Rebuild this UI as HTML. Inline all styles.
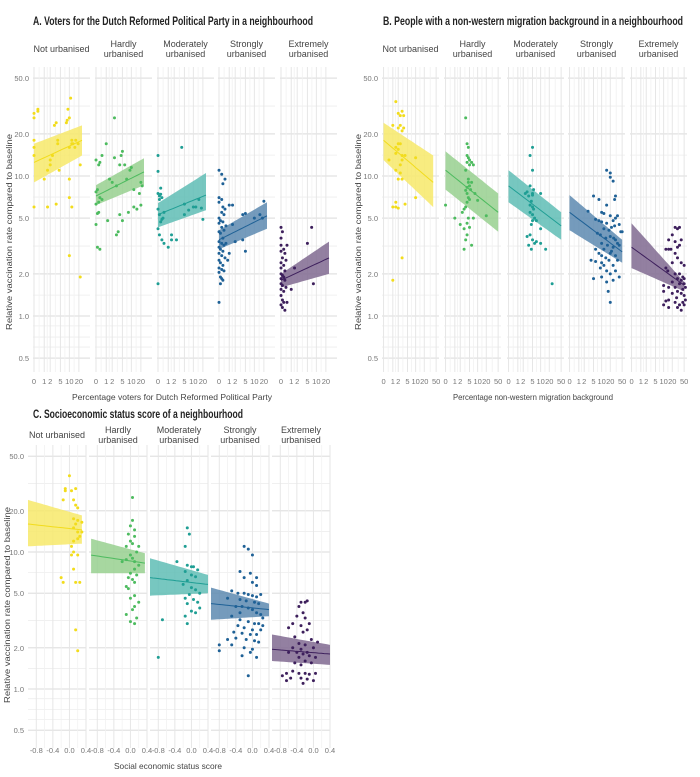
<!DOCTYPE html>
<html><head><meta charset="utf-8"><style>
html,body{margin:0;padding:0;background:#fff;}
svg{display:block;font-family:"Liberation Sans",sans-serif;}
.t{font-weight:bold;font-size:11.5px;fill:#222;}
.s{font-size:9px;fill:#444;text-anchor:middle;}
.tk{font-size:7.5px;fill:#777;}
.at{font-size:8.5px;fill:#444;}
</style></head><body>
<svg id="chart" width="700" height="777" viewBox="0 0 700 777">
<text class="t" x="33" y="25" textLength="280" lengthAdjust="spacingAndGlyphs">A. Voters for the Dutch Reformed Political Party in a neighbourhood</text>
<text class="t" x="383" y="25" textLength="300" lengthAdjust="spacingAndGlyphs">B. People with a non-western migration background in a neighbourhood</text>
<text class="t" x="33" y="418" textLength="210" lengthAdjust="spacingAndGlyphs">C. Socioeconomic status score of a neighbourhood</text>
<text class="at" transform="translate(12,232) rotate(-90)" text-anchor="middle" textLength="196" lengthAdjust="spacingAndGlyphs">Relative vaccination rate compared to baseline</text>
<text class="at" transform="translate(361,232) rotate(-90)" text-anchor="middle" textLength="196" lengthAdjust="spacingAndGlyphs">Relative vaccination rate compared to baseline</text>
<text class="at" transform="translate(10,605) rotate(-90)" text-anchor="middle" textLength="196" lengthAdjust="spacingAndGlyphs">Relative vaccination rate compared to baseline</text>
<text class="at" x="172" y="400" text-anchor="middle" textLength="200" lengthAdjust="spacingAndGlyphs">Percentage voters for Dutch Reformed Political Party</text>
<text class="at" x="533" y="400" text-anchor="middle" textLength="160" lengthAdjust="spacingAndGlyphs">Percentage non-western migration background</text>
<text class="at" x="168" y="769" text-anchor="middle" textLength="108" lengthAdjust="spacingAndGlyphs">Social economic status score</text>
</svg>
<script>
const urbanLabels=[["Not urbanised"],["Hardly","urbanised"],["Moderately","urbanised"],["Strongly","urbanised"],["Extremely","urbanised"]];
const colors=["#f2dc1c","#4dbb5f","#1f9e94","#1f6196","#3d1f5c"];
const bandColors=["#f7e96a","#98d08f","#5fbdb5","#5d89b0","#806a91"];
const yTicks=[50,20,10,5,2,1,0.5];
const yTickLabels=["50.0","20.0","10.0","5.0","2.0","1.0","0.5"];
const yMinor=[31.6,14.1,7.07,3.16,1.41,0.85,0.707,0.6];
const aTicks=[0,1,2,5,10,20];
const aTickLabels=["0","1","2","5","10","20"];
const bTicks=[0,1,2,5,10,20,50];
const bTickLabels=["0","1","2","5","10","20","50"];
const cTicks=[-0.8,-0.4,0.0,0.4];
const cTickLabels=["-0.8","-0.4","0.0","0.4"];
// bands: [xStart, lowerStart, lineStart, upperStart, xEnd, lowerEnd, lineEnd, upperEnd]
const aBands=[[0,9,12.5,17,25,14,18,23],[0,6.2,7.2,8.6,25,8.6,10.7,13.4],[0,4.3,5.3,6.4,25,5.7,7.3,10.5],[0,3.0,3.5,4.1,25,4.2,5.2,6.5],[0,1.6,1.8,2.0,25,2.0,2.6,3.4]];
const bBands=[[0,13,18,24,40,6,9,14],[0,8,11,15,50,4,5.5,7.5],[0,6.5,8.5,11,50,3.5,4.4,5.5],[0,4.1,5.5,7.3,50,2.4,2.87,3.5],[0,2.2,3.1,4.6,50,1.5,1.66,1.75]];
const cBands=[[-1.0,11,16,24,0.3,11.5,14.5,18.5],[-0.95,7,9.5,12.5,0.35,7,8.3,9.8],[-1.0,4.8,6.5,9,0.4,5,5.8,6.8],[-1.0,3.2,4.2,5.5,0.4,3.4,3.8,4.2],[-1.0,1.6,1.95,2.5,0.4,1.5,1.8,2.1]];
const aYellow=[[0,28],[0.3,29],[0.3,30],[0,26],[0,18],[0,16],[0,14],[1,9.5],[1.5,11],[2,13],[2,12],[2.5,14],[3,23],[3.5,24],[4,18],[4,17],[4.5,11],[8,24],[8.5,25],[9,30],[10,26],[10,16],[10,9.5],[10,7],[11,36],[12,18],[12,17],[13,17],[15,16],[16,18],[19,17],[22,12],[10,2.7],[22,1.9],[0,6],[1.5,6],[3.5,6.3],[12,6]];
const aGreen=[[0,13],[0.2,12],[0.3,12.5],[0.5,14],[0.1,8],[0,7.7],[0.3,7],[0.5,6.8],[0,6.3],[0.2,6.5],[0.2,5.5],[0.1,5.4],[0,4.5],[0.1,3.1],[0.3,3.0],[1,17],[1.5,9.5],[2,9.0],[1.2,4.8],[2.5,26],[2.5,13.5],[3,8.5],[3,3.8],[3.5,4.0],[4,12],[4,5.3],[4.5,14],[5,15],[5,4.8],[6,12],[7,9.5],[8,5.5],[9,11],[10,11.5],[12,8],[12,6],[15,5.8],[18,7.5],[20,6.2],[20,9],[22,8.5]];
const aTeal=[[0,14],[0,10.8],[0.2,8.2],[0,7.5],[0.1,7.2],[0.3,7.0],[0.1,6.8],[0.2,7.4],[0,5.8],[0.1,5.3],[0.2,4.7],[0.3,4.9],[0,4.2],[0.1,3.8],[0.3,3.5],[0.5,3.3],[0.4,5.0],[1,3.1],[1.5,3.5],[1.5,3.8],[0.5,5.5],[2.5,3.5],[0,1.7],[4,16],[5,6.3],[5,5.3],[7,5.7],[10,6.0],[15,6.8],[18,5.9],[20,4.9],[12,6.0]];
const aBlue=[[0,11],[0.2,10.3],[0.5,9.5],[0.3,8.8],[0,7],[0.2,6.8],[0,6.5],[0.3,6],[0.5,5.8],[1,6.2],[0.2,5.5],[0,5.0],[0.1,4.8],[0.3,4.7],[0,4.6],[0.2,4.3],[0.4,4.1],[0,4.0],[0.1,3.9],[0.3,3.6],[0,3.4],[0.2,3.3],[0.4,3.2],[0,3.1],[0.1,3.0],[0.3,2.9],[0,2.8],[0.2,2.7],[0.5,2.6],[0,2.5],[0.1,2.4],[0.3,2.3],[0,2.2],[0.2,2.15],[0.4,2.1],[0,2.05],[0.1,1.9],[0.2,1.85],[0.3,1.8],[0.1,1.7],[0,1.25],[0.6,3.3],[0.8,2.5],[1,2.8],[1.5,6.2],[1.5,4.5],[2,3.4],[4,5.3],[4,3.5],[5,5.4],[5,2.9],[10,5.0],[15,5.3],[18,5.0],[20,6.6],[0.6,4.4],[0.4,5.3]];
const aPurple=[[0,4.3],[0,3.6],[0.1,4.0],[0,3.2],[0.2,3.0],[0,2.9],[0.3,2.8],[0.1,2.6],[0,2.4],[0.2,2.3],[0,2.2],[0.3,2.1],[0,2.0],[0.1,1.95],[0.2,1.9],[0,1.85],[0.3,1.8],[0,1.7],[0.1,1.65],[0.4,1.6],[0,1.55],[0.2,1.5],[0,1.4],[0.1,1.3],[0.2,1.25],[0,1.2],[0.1,1.15],[0.3,1.1],[0.5,3.2],[0.4,2.5],[1,1.55],[1.5,2.2],[5,3.3],[7,4.3],[8,1.7],[0.5,1.25]];
const bYellow=[[1.5,34],[2,28],[2.5,27],[3,29],[3.5,27],[1,23],[2,22],[2.5,23],[3,21],[3.5,22],[2,17],[2.5,17],[1.5,16],[2,15.5],[1.5,14.5],[3,14],[3,13],[2.5,12],[1.5,11],[2.5,10.5],[2,9.5],[3,9.5],[0.5,13],[4,14],[10,13.5],[10,7],[1,6],[1.5,6.5],[1.5,6],[4,6.3],[3,2.6],[1,1.8],[2,5.9]];
const bGreen=[[0,6.2],[1,5.0],[2,4.5],[2.5,5.5],[3,5.8],[3.5,6.0],[3,4.2],[3.5,3.5],[3,3.0],[4,4.6],[4,3.8],[4.5,5.0],[5,4.3],[6,3.2],[7,5.0],[3.5,26],[4,17],[4.5,16],[4,14],[4.5,13.5],[5,13],[4,12.5],[6,12.5],[7,12],[5,12],[4.5,9.5],[5,8.5],[4,8.3],[3.5,7.9],[4,7.5],[5.5,8],[4.5,7.0],[5,6.8],[4,6.5],[6,9],[3.5,11],[10,6.7],[20,5.2],[8,7.5],[4.5,9]];
const bTeal=[[5,16],[4,14],[5,11],[4,8.5],[5,7.5],[5.5,8],[3,7.7],[2.5,7.5],[3.5,7.2],[5,7.3],[4.5,6.6],[4,6.2],[5,6.0],[5.5,5.8],[4,5.5],[5,5.3],[6,5.0],[5,4.8],[4.5,4.5],[7,4.8],[10,7.5],[10,4.2],[4,3.8],[3,3.7],[5,3.5],[3.5,3.2],[6,3.3],[4.5,3.0],[7,3.4],[10,3.3],[15,3.0],[25,1.7]];
const bBlue=[[15,11],[20,10.5],[20,9.8],[25,9.2],[5,7.2],[8,6.8],[30,7.2],[28,6.8],[15,6.2],[3,5.6],[10,5.5],[12,5.4],[20,5.2],[6,4.9],[8,4.8],[10,4.7],[15,4.6],[25,4.8],[30,5.0],[35,5.2],[40,4.5],[12,4.2],[18,4.1],[22,4.3],[28,4.4],[50,4.0],[45,4.0],[7,3.9],[9,3.8],[14,3.6],[20,3.7],[30,3.5],[35,3.3],[10,3.3],[6,3.0],[12,3.0],[16,3.2],[25,3.1],[40,3.2],[8,2.8],[10,2.7],[14,2.6],[20,2.8],[30,2.7],[4,2.5],[6,2.45],[10,2.4],[12,2.3],[18,2.5],[25,2.3],[35,2.5],[9,2.2],[15,2.1],[20,2.0],[30,2.1],[10,1.9],[15,1.75],[25,1.8],[40,1.9],[5,1.85],[20,1.25],[17,1.5],[22,2.9],[26,3.6]];
const bPurple=[[25,4.3],[30,4.2],[35,4.3],[20,3.8],[15,3.5],[25,3.4],[40,3.5],[30,3.1],[12,3.0],[15,3.0],[18,3.0],[35,3.2],[25,2.8],[30,2.6],[20,2.4],[40,2.4],[50,2.3],[12,2.2],[14,2.1],[25,2.0],[35,2.0],[45,1.9],[50,1.85],[30,1.85],[40,1.8],[20,1.75],[35,1.7],[50,1.7],[10,1.65],[15,1.6],[25,1.6],[45,1.55],[55,1.6],[10,1.5],[20,1.45],[30,1.5],[40,1.45],[50,1.4],[15,1.3],[25,1.25],[35,1.2],[45,1.25],[55,1.3],[10,1.2],[15,1.15],[30,1.15],[40,1.1],[50,1.2],[12,1.28],[28,1.35]];
const cYellow=[[0.0,36],[-0.1,29],[-0.1,28],[0.05,28],[0.15,29],[-0.15,24],[0.1,24],[0.15,22],[0.2,21],[0.1,17.5],[0.2,17],[0.15,16],[0.1,15],[0.2,14],[0.25,13],[0.3,14],[0.2,12.5],[0.1,12],[0.05,11],[0.1,10],[0.05,9.5],[0.2,9.5],[0.1,7.5],[-0.2,6.5],[-0.15,6],[0.15,6],[0.25,6],[0.15,2.7],[0.2,1.9],[0.3,16.5]];
const cGreen=[[0.05,25],[0.05,17],[0.0,15.5],[0.1,14.5],[-0.05,13.5],[0.1,13],[0.0,12],[0.05,11.5],[-0.1,11],[0.2,11],[0.15,10],[0.0,9.5],[0.05,9],[-0.1,8.8],[0.1,8.5],[-0.2,8.5],[0.2,8.0],[0.1,7.5],[0.0,7.0],[0.15,6.8],[-0.05,6.5],[0.05,6.3],[0.1,6.0],[-0.1,5.6],[-0.05,5.4],[0.1,4.8],[0.0,4.6],[0.2,4.3],[0.05,3.8],[0.1,4.0],[-0.1,3.5],[0.0,3.1],[0.1,3.0],[0.15,3.3]];
const cTeal=[[-0.1,15],[-0.05,13.5],[-0.15,11],[-0.35,8.5],[-0.1,8.0],[0.0,7.8],[0.05,7.8],[0.15,7.4],[-0.15,7.2],[0.0,6.8],[0.1,6.6],[-0.1,6.2],[-0.2,5.8],[0.0,5.5],[0.1,5.3],[0.2,5.0],[-0.05,4.9],[-0.15,4.6],[0.05,4.5],[0.15,4.3],[-0.1,4.2],[0.0,3.7],[0.1,3.6],[-0.15,3.4],[-0.1,3.0],[-0.7,3.2],[-0.8,1.7],[0.2,3.9]];
const cBlue=[[-0.2,11],[-0.1,10.5],[0.0,9.5],[-0.3,7.2],[-0.05,7],[0.1,6.5],[-0.2,6.5],[0.0,6],[0.1,5.7],[-0.5,5.2],[-0.35,5.0],[-0.2,5.0],[-0.1,4.9],[0.0,4.8],[0.1,4.7],[0.2,4.9],[-0.6,4.6],[-0.3,4.5],[-0.15,4.4],[0.05,4.3],[0.15,4.2],[-0.4,4.0],[-0.25,4.0],[-0.1,3.9],[0.0,3.8],[0.1,3.6],[0.2,3.5],[0.25,3.3],[-0.5,3.4],[-0.3,3.2],[-0.1,3.1],[0.05,3.0],[0.15,3.0],[-0.35,2.9],[-0.2,2.8],[0.0,2.7],[0.2,2.7],[-0.45,2.6],[-0.25,2.55],[-0.05,2.5],[0.1,2.5],[-0.6,2.3],[-0.4,2.35],[-0.15,2.3],[0.05,2.25],[0.15,2.2],[-0.5,2.1],[-0.2,2.0],[0.0,1.95],[-0.8,2.1],[-0.8,1.9],[-0.25,1.75],[-0.05,1.85],[0.1,1.7],[-0.1,1.25],[-0.3,3.6],[0.25,2.9]];
const cPurple=[[-0.3,4.3],[-0.2,4.3],[-0.15,4.4],[-0.35,4.0],[-0.25,3.6],[-0.4,3.4],[-0.2,3.3],[-0.5,3.0],[-0.1,3.0],[-0.3,2.9],[-0.6,2.8],[-0.15,2.7],[-0.25,2.6],[-0.45,2.4],[-0.05,2.3],[0.1,2.2],[-0.35,2.15],[-0.2,2.1],[-0.5,2.0],[-0.3,1.95],[0.0,2.0],[-0.4,1.85],[-0.15,1.85],[-0.6,1.85],[-0.25,1.8],[-0.1,1.75],[-0.35,1.7],[0.05,1.7],[-0.2,1.6],[-0.45,1.55],[-0.3,1.5],[-0.05,1.55],[-0.5,1.35],[-0.35,1.3],[-0.2,1.3],[-0.1,1.28],[0.05,1.3],[-0.55,1.2],[-0.3,1.2],[-0.15,1.18],[0.0,1.15],[-0.65,1.15],[-0.25,1.1],[-0.75,1.25],[-0.65,1.3]];
const aPoints=[aYellow,aGreen,aTeal,aBlue,aPurple];
const bPoints=[bYellow,bGreen,bTeal,bBlue,bPurple];
const cPoints=[cYellow,cGreen,cTeal,cBlue,cPurple];

const NS="http://www.w3.org/2000/svg";
const svg=document.getElementById('chart');
function mk(tag,attrs,parent){const e=document.createElementNS(NS,tag);for(const k in attrs)e.setAttribute(k,attrs[k]);(parent||svg).appendChild(e);return e;}
const lg=v=>Math.log10(v);
const l1p=v=>Math.log10(v+1);
const lin=v=>v;

function drawPanel(p){
  const g=mk('g',{});
  
  
  const yS=v=>p.y10-(lg(v)-1)*p.dec;
  const xS=(i,v)=>p.fx[i]+(p.tf(v)-p.d0)/(p.d1-p.d0)*p.fw;
  yTicks.forEach((t,k)=>{
    const tx=mk('text',{x:p.fx[0]-4,y:yS(t)+3,'text-anchor':'end',class:'tk'},g);
    tx.textContent=yTickLabels[k];
    
    
  });
  for(let i=0;i<5;i++){
    const fg=mk('g',{},g);
    
    
    const x0=p.fx[i],x1=p.fx[i]+p.fw;
    const lines=urbanLabels[i];
    lines.forEach((ln,k)=>{
      const tx=mk('text',{x:x0+p.fw/2,y:p.stripY+(lines.length===1?5:k*10),class:'s'},fg);
      tx.textContent=ln;
      
      
    });
    yMinor.forEach(t=>{const l=mk('line',{x1:x0,x2:x1,y1:yS(t),y2:yS(t),stroke:'#eeeeee','stroke-width':0.8},fg);});
    yTicks.forEach(t=>{const l=mk('line',{x1:x0,x2:x1,y1:yS(t),y2:yS(t),stroke:'#e2e2e2','stroke-width':1.3},fg);});
    p.ticks.forEach((t,k)=>{
      const xx=xS(i,t);
      const l=mk('line',{x1:xx,x2:xx,y1:p.top,y2:p.bot,stroke:'#e6e6e6','stroke-width':1},fg);
      
      
      if(k<p.ticks.length-1){const xm=(xx+xS(i,p.ticks[k+1]))/2;const l2=mk('line',{x1:xm,x2:xm,y1:p.top,y2:p.bot,stroke:'#f1f1f1','stroke-width':0.8},fg);}
      const tx=mk('text',{x:xx,y:p.tickY,'text-anchor':'middle',class:'tk'},fg);
      tx.textContent=p.tickLabels[k];
      
      
    });
    const b=p.bands[i];
    const N=20,up=[],lo=[],ln=[];
    for(let s=0;s<=N;s++){
      const f=s/N;
      const xx=p.fx[i]+((p.tf(b[0])+(p.tf(b[4])-p.tf(b[0]))*f)-p.d0)/(p.d1-p.d0)*p.fw;
      const lerpLog=(a,c)=>Math.pow(10,lg(a)+(lg(c)-lg(a))*f);
      up.push([xx,yS(lerpLog(b[3],b[7]))]);lo.push([xx,yS(lerpLog(b[1],b[5]))]);ln.push([xx,yS(lerpLog(b[2],b[6]))]);
    }
    const poly=up.concat(lo.reverse()).map(q=>q[0].toFixed(1)+','+q[1].toFixed(1)).join(' ');
    const band=mk('polygon',{points:poly,fill:bandColors[i],'fill-opacity':0.85},fg);
    
    
    const pl=mk('polyline',{points:ln.map(q=>q[0].toFixed(1)+','+q[1].toFixed(1)).join(' '),fill:'none',stroke:colors[i],'stroke-width':1},fg);
    
    
    p.points[i].forEach(pt=>{
      const c=mk('circle',{cx:xS(i,pt[0]),cy:yS(pt[1]),r:1.5,fill:colors[i]},fg);
      
      
    });
  }
}
drawPanel({name:'panel-a',fx:[33,95,157,218,280],fw:57,tf:l1p,d0:-0.03,d1:1.65,y10:176,dec:140,top:67,bot:372,stripY:47,tickY:384,ticks:aTicks,tickLabels:aTickLabels,bands:aBands,points:aPoints});
drawPanel({name:'panel-b',fx:[382,444,507,568,630],fw:57,tf:l1p,d0:-0.05,d1:1.8,y10:176,dec:140,top:67,bot:372,stripY:47,tickY:384,ticks:bTicks,tickLabels:bTickLabels,bands:bBands,points:bPoints});
drawPanel({name:'panel-c',fx:[28,89,150,211,272],fw:58,tf:lin,d0:-1.0,d1:0.4,y10:552,dec:137,top:445,bot:748,stripY:433,tickY:753,ticks:cTicks,tickLabels:cTickLabels,bands:cBands,points:cPoints});
</script>
</body></html>
